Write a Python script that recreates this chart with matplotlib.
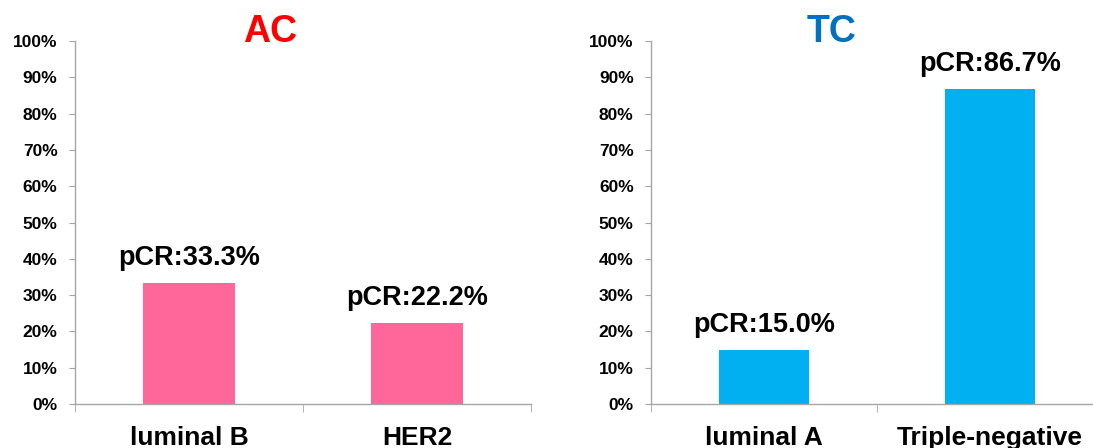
import matplotlib.pyplot as plt
from matplotlib.ticker import PercentFormatter

plt.rcParams['font.family'] = ['Liberation Sans', 'DejaVu Sans']
plt.rcParams['font.weight'] = 'bold'

ac_groups = ['luminal B', 'HER2']
ac_pcr = [33.3, 22.2]
tc_groups = ['luminal A', 'Triple-negative']
tc_pcr = [15.0, 86.7]

axis_gray = '#A6A6A6'

fig = plt.figure(figsize=(10.93, 4.48), dpi=100)
ax1 = fig.add_axes([0.0686, 0.0982, 0.4172, 0.810])
ax2 = fig.add_axes([0.5956, 0.0982, 0.4135, 0.810])


def draw_panel(ax, groups, values, color, title, title_color, title_x):
    x = range(len(groups))
    ax.bar(x, values, width=0.4, color=color)
    for xi, v in zip(x, values):
        ax.annotate(f'pCR:{v:.1f}%', (xi, v), xytext=(0, 13), textcoords='offset points',
                    ha='center', va='baseline', fontsize=19.5, fontweight='bold')
    ax.set_xlim(-0.5, len(groups) - 0.5)
    ax.set_ylim(0, 100)
    ax.set_yticks(range(0, 101, 10))
    ax.yaxis.set_major_formatter(PercentFormatter(decimals=0))
    ax.set_xticks(list(x))
    ax.set_xticklabels(groups, fontsize=19, fontweight='bold')
    ax.set_xticks([i - 0.5 for i in range(len(groups) + 1)], minor=True)
    ax.tick_params(axis='x', which='major', length=0, pad=16)
    ax.tick_params(axis='x', which='minor', length=6, color=axis_gray, direction='out')
    ax.tick_params(axis='y', length=4.5, color=axis_gray, labelsize=12.5, pad=8)
    for lbl in ax.get_yticklabels():
        lbl.set_fontweight('bold')
    for side in ['top', 'right']:
        ax.spines[side].set_visible(False)
    for side in ['left', 'bottom']:
        ax.spines[side].set_color(axis_gray)
        ax.spines[side].set_linewidth(1.0)
    fig.text(title_x, 1 - 32 / 448, title, color=title_color, fontsize=27,
             fontweight='bold', ha='center', va='center')


draw_panel(ax1, ac_groups, ac_pcr, '#FF6699', 'AC', '#FF0000', 270 / 1093)
draw_panel(ax2, tc_groups, tc_pcr, '#00B0F0', 'TC', '#0070C0', 832 / 1093)

fig.savefig('out.png', dpi=100)
